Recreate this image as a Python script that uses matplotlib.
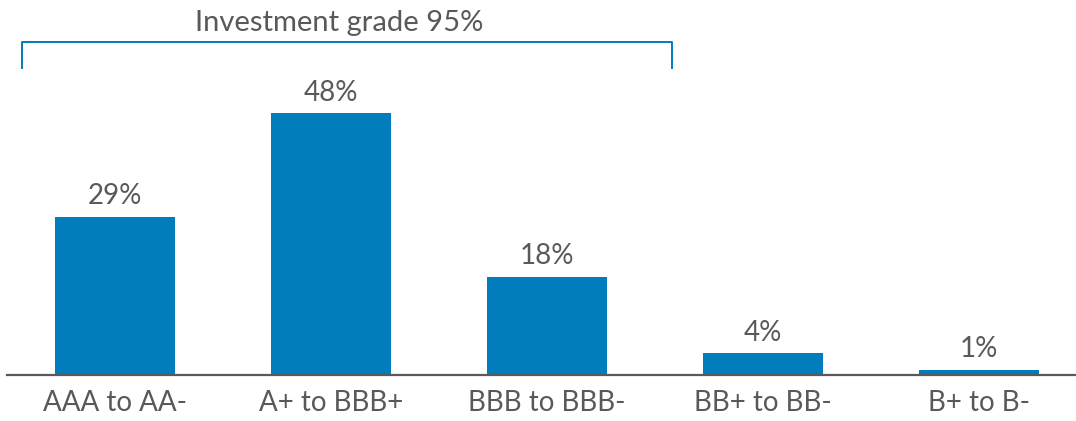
import numpy as np
import matplotlib.pyplot as plt

ratings = ['AAA to AA-', 'A+ to BBB+', 'BBB to BBB-', 'BB+ to BB-', 'B+ to B-']
shares = [29, 48, 18, 4, 1]
ig_label = 'Investment grade 95%'
n_ig = 3  # first three bands are investment grade

blue = '#007dba'
grey = '#595959'

plt.rcParams['font.family'] = ['Lato', 'DejaVu Sans']

fig = plt.figure(figsize=(10.76, 4.21), dpi=100)
ax = fig.add_axes([0, 46 / 421, 1, 375 / 421])

x = np.arange(len(ratings))
bars = ax.bar(x, shares, width=0.556, color=blue, zorder=2)

for b, v in zip(bars, shares):
    ax.annotate(f'{v}%', (b.get_x() + b.get_width() / 2, v),
                xytext=(0, 5.5), textcoords='offset points',
                ha='center', va='bottom', fontsize=20, color=grey)

ax.set_xlim(-0.532, 4.449)
ax.set_ylim(0, 68.8)

ax.set_xticks(x)
ax.set_xticklabels(ratings, fontsize=20, color=grey)
ax.tick_params(axis='x', length=0, pad=11)
ax.set_yticks([])

for s in ['left', 'right', 'top']:
    ax.spines[s].set_visible(False)
ax.spines['bottom'].set_color(grey)
ax.spines['bottom'].set_linewidth(1.6)
ax.spines['bottom'].set_bounds(-0.5, 4.449)

# bracket over the investment grade bands
bx0, bx1 = -0.43, n_ig - 1 + 0.58
ax.plot([bx0, bx0, bx1, bx1], [56.3, 61.1, 61.1, 56.3], color=blue,
        lw=1.4, solid_joinstyle='round', clip_on=False)
ax.text(1.04, 64.6, ig_label, ha='center', va='center', fontsize=21, color=grey)

fig.savefig('out.png', dpi=100)
